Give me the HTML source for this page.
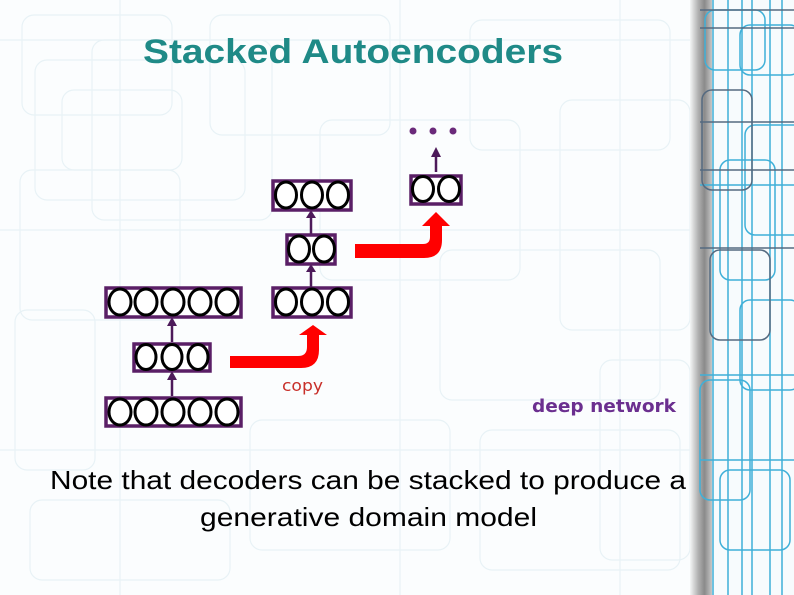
<!DOCTYPE html>
<html><head><meta charset="utf-8"><style>
html,body{margin:0;padding:0;background:#fff;}
svg{display:block;}
</style></head><body>
<svg width="794" height="595" viewBox="0 0 794 595" xmlns="http://www.w3.org/2000/svg">
<defs>
<linearGradient id="sh" x1="0" x2="1" y1="0" y2="0">
<stop offset="0" stop-color="#f4f6f6"/><stop offset="0.08" stop-color="#b0b0b0"/><stop offset="0.14" stop-color="#8a8a8a"/><stop offset="0.25" stop-color="#e8e8e8"/><stop offset="1" stop-color="#ffffff"/>
</linearGradient>
</defs>
<rect width="794" height="595" fill="#fbfdfe"/>
<g fill="none" stroke="#e8f2f6" stroke-width="1.2">
<rect x="22" y="15" width="150" height="100" rx="12"/>
<rect x="35" y="60" width="210" height="140" rx="12"/>
<rect x="62" y="90" width="120" height="80" rx="12"/>
<rect x="92" y="40" width="180" height="180" rx="12"/>
<rect x="20" y="170" width="160" height="150" rx="12"/>
<rect x="210" y="15" width="180" height="120" rx="12"/>
<rect x="320" y="120" width="200" height="160" rx="12"/>
<rect x="470" y="20" width="200" height="130" rx="12"/>
<rect x="560" y="100" width="130" height="230" rx="12"/>
<rect x="440" y="250" width="220" height="150" rx="12"/>
<rect x="15" y="310" width="80" height="160" rx="12"/>
<rect x="250" y="420" width="200" height="130" rx="12"/>
<rect x="480" y="430" width="200" height="140" rx="12"/>
<rect x="30" y="500" width="200" height="80" rx="12"/>
<rect x="600" y="360" width="90" height="200" rx="12"/>
<line x1="0" y1="40" x2="700" y2="40"/><line x1="0" y1="230" x2="700" y2="230"/><line x1="0" y1="450" x2="700" y2="450"/>
<line x1="120" y1="0" x2="120" y2="595"/><line x1="400" y1="0" x2="400" y2="595"/><line x1="620" y1="0" x2="620" y2="595"/>
</g>
<rect x="690" y="0" width="104" height="595" fill="url(#sh)"/>
<rect x="712" y="0" width="82" height="595" fill="#f7fbfd"/>
<g fill="none" stroke-width="1.5">
<g stroke="#3fb0d8">
<line x1="713" y1="0" x2="713" y2="595"/><line x1="728" y1="0" x2="728" y2="595"/>
<line x1="742" y1="0" x2="742" y2="595"/><line x1="752" y1="0" x2="752" y2="595"/>
<line x1="770" y1="0" x2="770" y2="595"/><line x1="782" y1="0" x2="782" y2="595"/>
<rect x="705" y="10" width="60" height="60" rx="10"/><rect x="740" y="25" width="60" height="50" rx="10"/>
<rect x="745" y="125" width="60" height="110" rx="10"/><rect x="720" y="160" width="55" height="120" rx="10"/>
<rect x="740" y="300" width="60" height="90" rx="10"/><rect x="700" y="380" width="50" height="120" rx="10"/>
<rect x="720" y="470" width="70" height="80" rx="10"/>
<line x1="700" y1="185" x2="794" y2="185"/><line x1="700" y1="375" x2="794" y2="375"/><line x1="700" y1="460" x2="794" y2="460"/>
</g>
<g stroke="#556a80">
<line x1="700" y1="10" x2="794" y2="10"/><line x1="700" y1="28" x2="794" y2="28"/>
<line x1="700" y1="122" x2="794" y2="122"/><line x1="700" y1="170" x2="794" y2="170"/><line x1="700" y1="248" x2="794" y2="248"/>
<rect x="702" y="90" width="50" height="100" rx="10"/><rect x="710" y="250" width="60" height="90" rx="10"/>
</g>
</g>
<text x="353" y="63" text-anchor="middle" font-family="Liberation Sans, sans-serif" font-weight="bold" font-size="34" fill="#1f8a87" textLength="420" lengthAdjust="spacingAndGlyphs">Stacked Autoencoders</text>
<g fill="#6b2a7a"><circle cx="413" cy="131" r="3.5"/><circle cx="433" cy="131" r="3.5"/><circle cx="453" cy="131" r="3.5"/></g>
<g stroke="#4d1a5a" stroke-width="2.5" fill="#4d1a5a">
<line x1="172" y1="396" x2="172" y2="378"/><polygon points="167,380 177,380 172,371" stroke="none"/>
<line x1="172" y1="342" x2="172" y2="324"/><polygon points="167,326 177,326 172,317" stroke="none"/>
<line x1="311" y1="287" x2="311" y2="271"/><polygon points="306,272 316,272 311,264" stroke="none"/>
<line x1="311" y1="234" x2="311" y2="217"/><polygon points="306,218 316,218 311,210" stroke="none"/>
<line x1="436" y1="172" x2="436" y2="155"/><polygon points="431,157 441,157 436,147" stroke="none"/>
</g>
<g fill="#ff0000">
<path d="M230 356 H298 Q307 356 307 347 V335 H299 L313 325 L327 335 H319 V350 Q319 368 301 368 H230 Z"/>
<path d="M355 244 H423 Q430 244 430 237 V226 H422 L436 212 L450 226 H442 V240 Q442 258 424 258 H355 Z"/>
</g>
<g stroke="#5a1f66" stroke-width="3.5" fill="#fff">
<rect x="106" y="398" width="135" height="28"/><rect x="134" y="344" width="76" height="27"/>
<rect x="106" y="288" width="135" height="29"/><rect x="273" y="288" width="78" height="29"/>
<rect x="287" y="235" width="48" height="29"/><rect x="273" y="181" width="78" height="29"/>
<rect x="411" y="176" width="50" height="28"/>
</g>
<g stroke="#000" stroke-width="3" fill="#fff">
<ellipse cx="120" cy="412" rx="11" ry="13"/><ellipse cx="146" cy="412" rx="11" ry="13"/><ellipse cx="173" cy="412" rx="11" ry="13"/><ellipse cx="200" cy="412" rx="11" ry="13"/><ellipse cx="227" cy="412" rx="11" ry="13"/>
<ellipse cx="146" cy="357" rx="10" ry="12.5"/><ellipse cx="172" cy="357" rx="10" ry="12.5"/><ellipse cx="198" cy="357" rx="10" ry="12.5"/>
<ellipse cx="120" cy="302" rx="11" ry="13"/><ellipse cx="146" cy="302" rx="11" ry="13"/><ellipse cx="173" cy="302" rx="11" ry="13"/><ellipse cx="200" cy="302" rx="11" ry="13"/><ellipse cx="227" cy="302" rx="11" ry="13"/>
<ellipse cx="286" cy="302" rx="10.5" ry="13"/><ellipse cx="312" cy="302" rx="10.5" ry="13"/><ellipse cx="338" cy="302" rx="10.5" ry="13"/>
<ellipse cx="299" cy="249" rx="10.5" ry="13"/><ellipse cx="324" cy="249" rx="10.5" ry="13"/>
<ellipse cx="286" cy="195" rx="10.5" ry="13"/><ellipse cx="312" cy="195" rx="10.5" ry="13"/><ellipse cx="338" cy="195" rx="10.5" ry="13"/>
<ellipse cx="423" cy="189" rx="10.5" ry="12.5"/><ellipse cx="449" cy="189" rx="10.5" ry="12.5"/>
</g>
<text x="282" y="391" font-family="DejaVu Sans, sans-serif" font-size="16" fill="#c8302a" textLength="41" lengthAdjust="spacingAndGlyphs">copy</text>
<text x="532" y="412" font-family="DejaVu Sans, sans-serif" font-weight="bold" font-size="18" fill="#6b2f8f" textLength="144" lengthAdjust="spacingAndGlyphs">deep network</text>
<text x="50" y="489" font-family="Liberation Sans, sans-serif" font-size="26" fill="#000" textLength="636" lengthAdjust="spacingAndGlyphs">Note that decoders can be stacked to produce a</text>
<text x="200" y="526" font-family="Liberation Sans, sans-serif" font-size="26" fill="#000" textLength="337" lengthAdjust="spacingAndGlyphs">generative domain model</text>
</svg>
</body></html>
